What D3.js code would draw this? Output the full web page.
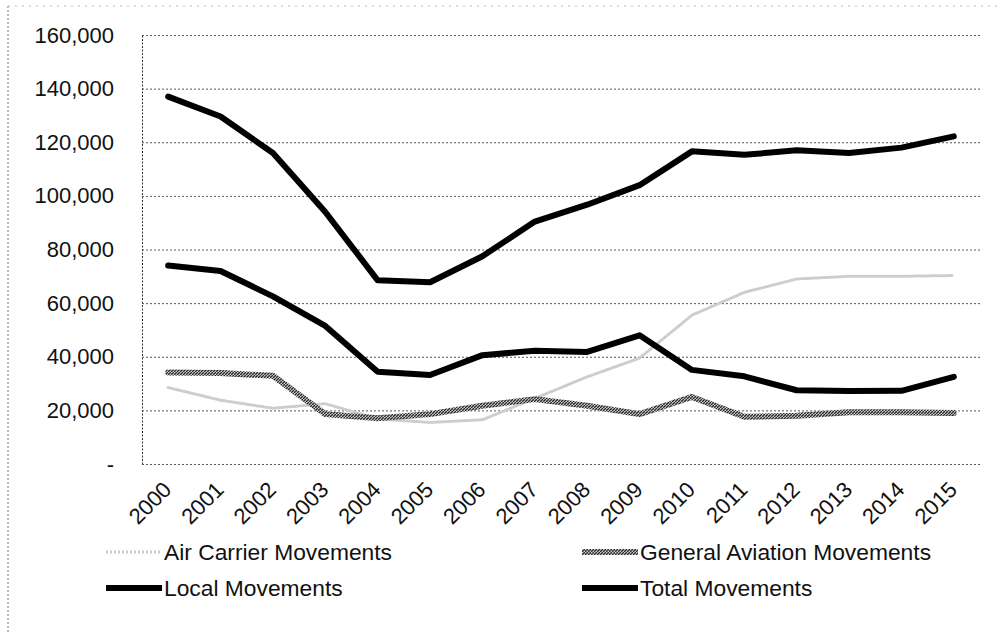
<!DOCTYPE html>
<html>
<head>
<meta charset="utf-8">
<script src="https://cdn.jsdelivr.net/npm/d3@7"></script>
<style>
  html, body { margin: 0; padding: 0; background: #fff; }
  svg { display: block; font-family: "Liberation Sans", Arial, sans-serif; }
</style>
</head>
<body>
<svg id="viz" width="997" height="632"></svg>
<script>
(function () {
  "use strict";

  // Data
  const years = ["2000", "2001", "2002", "2003", "2004", "2005", "2006", "2007",
                 "2008", "2009", "2010", "2011", "2012", "2013", "2014", "2015"];
  const airCarrier = [28500, 23800, 20800, 22500, 16800, 15500, 16500, 24500,
                      32500, 39500, 55500, 64000, 69000, 70000, 70000, 70300];
  const generalAviation = [34100, 33900, 32900, 18600, 17100, 18600, 21700, 24200,
                           21700, 18600, 25000, 17600, 18000, 19300, 19300, 19000];
  const local = [74000, 72000, 62500, 51500, 34400, 33200, 40600, 42200,
                 41800, 48000, 35100, 32700, 27500, 27200, 27300, 32500];
  const total = [137000, 129600, 116000, 94000, 68500, 67800, 77500, 90400,
                 96700, 104000, 116600, 115300, 117000, 116000, 118000, 122200];
  const yTicks = [0, 20000, 40000, 60000, 80000, 100000, 120000, 140000, 160000];

  const seriesNames = ["Air Carrier Movements", "General Aviation Movements",
                       "Local Movements", "Total Movements"];

  /*
  | Layout
  */
  let plot = { left: 142, right: 980, top: 35, bottom: 464 };
  let fontSize = 22;
  let legendFontSize = 22.8;

  let svg = d3.select("#viz");

  // hatch pattern for the general aviation line
  let defs = svg.append("defs");
  let pat = defs.append("pattern")
    .attr("id", "hatch")
    .attr("patternUnits", "userSpaceOnUse")
    .attr("width", 3)
    .attr("height", 3);
  pat.append("rect").attr("width", 3).attr("height", 3).attr("fill", "#c9c9c9");
  pat.append("path").attr("d", "M0,3 L3,0").attr("stroke", "#2a2a2a").attr("stroke-width", 1.3);

  let styles = [
    { stroke: "#cdcdcd", width: 3, dash: "2,2" },
    { stroke: "url(#hatch)", width: 6, dash: null },
    { stroke: "#000", width: 6, dash: null },
    { stroke: "#000", width: 6, dash: null }
  ];

  // faint outer border of the scanned chart (left and top)
  svg.append("line")
    .attr("x1", 8).attr("y1", 6).attr("x2", 8).attr("y2", 632)
    .attr("stroke", "#777").attr("stroke-width", 1).attr("stroke-dasharray", "2,2");
  svg.append("line")
    .attr("x1", 8).attr("y1", 6).attr("x2", 997).attr("y2", 6)
    .attr("stroke", "#bbb").attr("stroke-width", 1).attr("stroke-dasharray", "2,5");

  /*
  | Scales
  */
  let x = d3.scalePoint()
    .domain(years)
    .range([plot.left, plot.right])
    .padding(0.5);

  let y = d3.scaleLinear()
    .domain([0, 160000])
    .range([plot.bottom, plot.top]);

  /*
  | Axes
  */
  let yAxis = d3.axisLeft(y)
    .tickValues(yTicks)
    .tickSize(-(plot.right - plot.left))
    .tickSizeOuter(0)
    .tickPadding(28)
    .tickFormat(d => d === 0 ? "-" : d3.format(",")(d));

  let gy = svg.append("g")
    .attr("transform", `translate(${plot.left},0)`)
    .call(yAxis);

  gy.select(".domain")
    .attr("stroke", "#333")
    .attr("stroke-dasharray", "2,1.5");
  gy.selectAll(".tick line")
    .attr("stroke", "#444")
    .attr("stroke-width", 0.9)
    .attr("stroke-dasharray", "2,2");
  gy.selectAll(".tick text")
    .attr("fill", "#111")
    .style("font-size", fontSize + "px")
    .attr("font-family", null);

  let xAxis = d3.axisBottom(x).tickSize(0);

  let gx = svg.append("g")
    .attr("transform", `translate(0,${plot.bottom})`)
    .call(xAxis);
  gx.select(".domain").remove();
  gx.selectAll(".tick text")
    .attr("fill", "#111")
    .style("font-size", fontSize + "px")
    .attr("font-family", null)
    .attr("text-anchor", "end")
    .attr("y", 0)
    .attr("dy", 0)
    .attr("transform", "translate(4,27) rotate(-45)");

  /*
  | Lines
  */
  let lineGen = d3.line()
    .x((d, i) => x(years[i]))
    .y(d => y(d));

  let allSeries = [airCarrier, generalAviation, local, total];

  svg.append("g")
    .selectAll("path")
    .data(allSeries)
    .enter()
    .append("path")
    .attr("d", d => lineGen(d))
    .attr("fill", "none")
    .attr("stroke", (d, i) => styles[i].stroke)
    .attr("stroke-width", (d, i) => styles[i].width)
    .attr("stroke-dasharray", (d, i) => styles[i].dash)
    .attr("stroke-linejoin", "round")
    .attr("stroke-linecap", "round");

  /*
  | Legend
  */
  let legendPos = [
    { x: 106, y: 552 }, { x: 582, y: 552 },
    { x: 106, y: 588 }, { x: 582, y: 588 }
  ];

  let legend = svg.append("g")
    .selectAll(".legend")
    .data(seriesNames)
    .enter()
    .append("g")
    .attr("transform", (d, i) => `translate(${legendPos[i].x},${legendPos[i].y})`);

  legend.append("line")
    .attr("x1", 0).attr("x2", 56)
    .attr("stroke", (d, i) => styles[i].stroke)
    .attr("stroke-width", (d, i) => styles[i].width)
    .attr("stroke-dasharray", (d, i) => styles[i].dash);

  legend.append("text")
    .attr("x", 58)
    .attr("dy", "0.35em")
    .attr("fill", "#111")
    .style("font-size", legendFontSize + "px")
    .text(d => d);
})();
</script>
</body>
</html>
